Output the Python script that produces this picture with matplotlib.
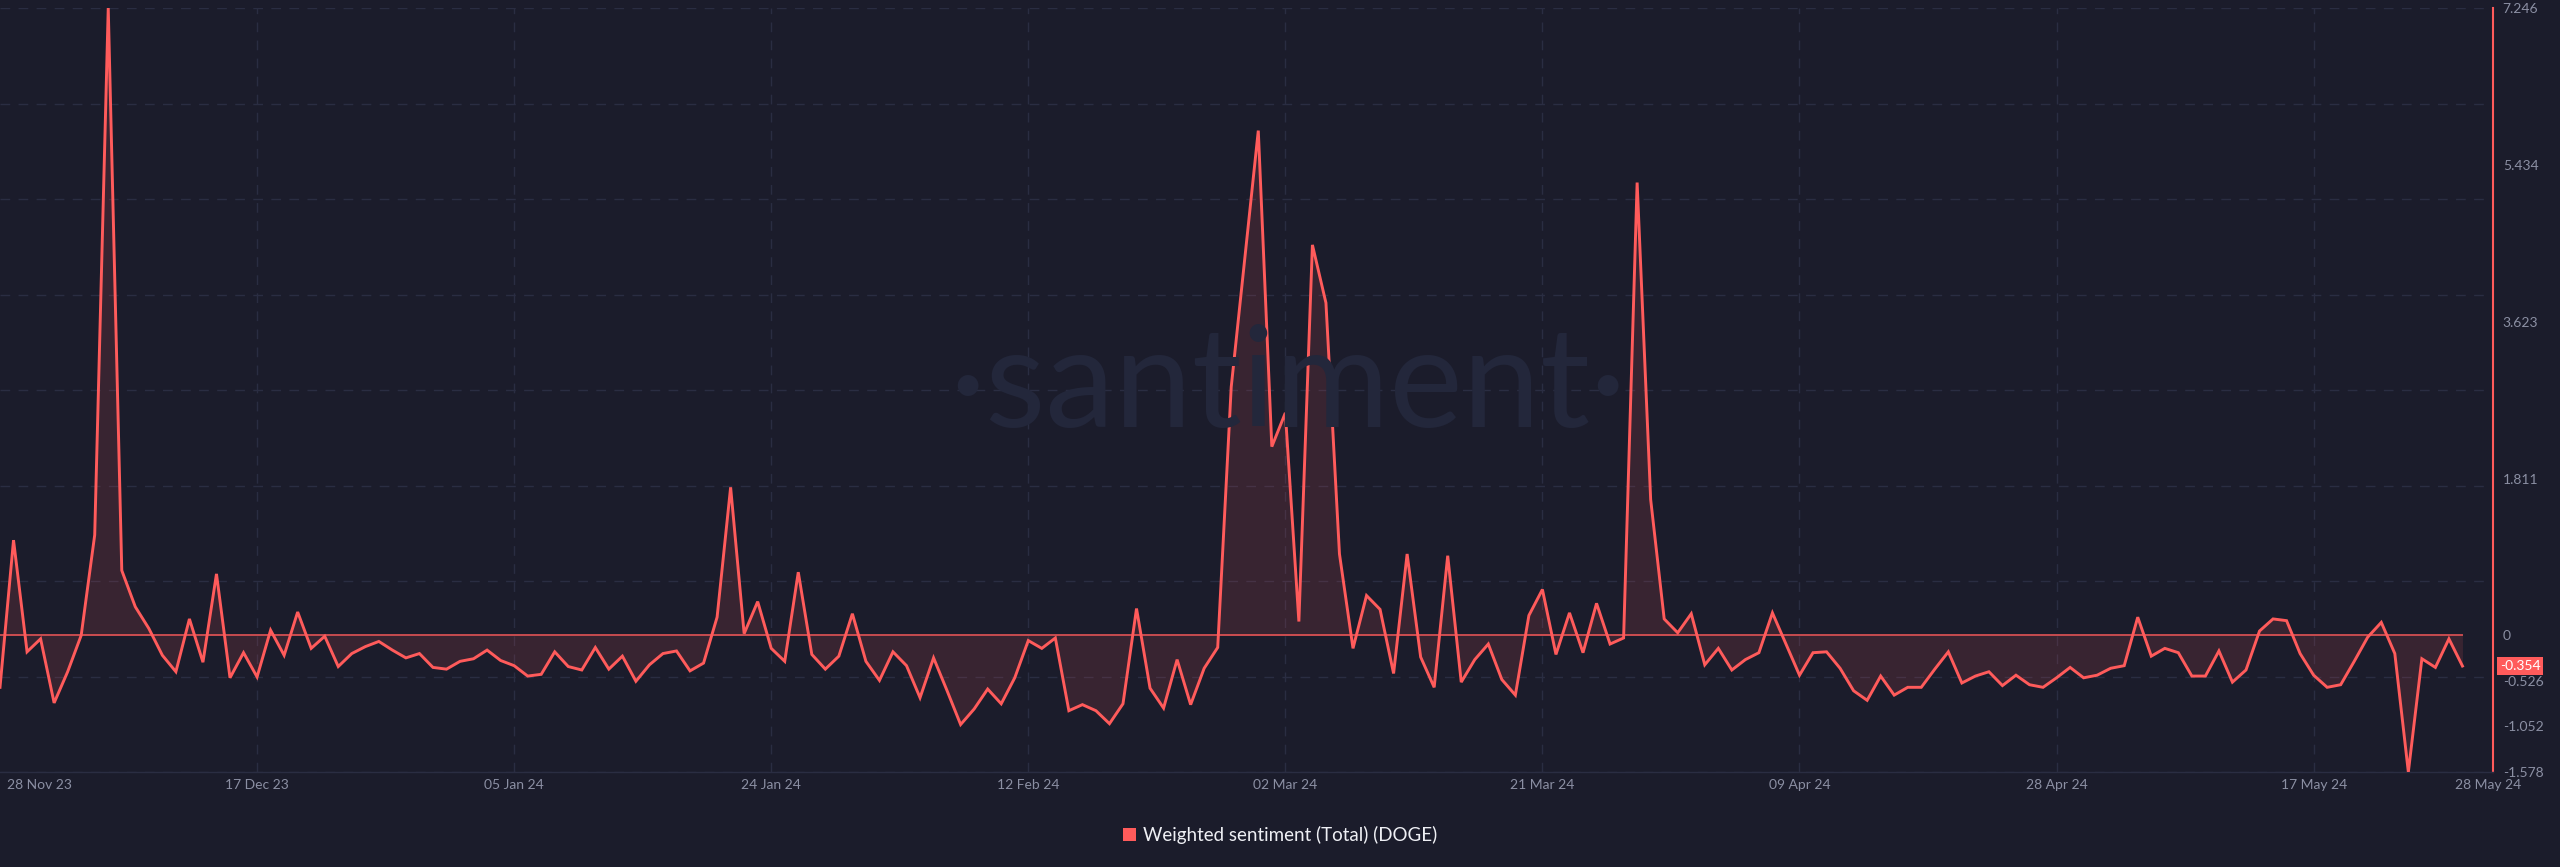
import matplotlib.pyplot as plt
import matplotlib.transforms as mtransforms
from matplotlib.patches import Patch
import numpy as np

# Weighted sentiment (Total) for DOGE, one value per day from 28 Nov 23 to 28 May 24
sentiment = [
    -0.60, 1.10, -0.19, -0.04, -0.78, -0.42, 0.00, 1.16, 7.246, 0.75,
    0.33, 0.08, -0.23, -0.42, 0.19, -0.31, 0.71, -0.49, -0.20, -0.48,
    0.06, -0.23, 0.27, -0.15, -0.01, -0.36, -0.21, -0.13, -0.07, -0.17,
    -0.26, -0.21, -0.37, -0.39, -0.30, -0.27, -0.17, -0.29, -0.35, -0.47,
    -0.45, -0.19, -0.36, -0.40, -0.14, -0.39, -0.24, -0.53, -0.34, -0.21,
    -0.18, -0.41, -0.32, 0.21, 1.71, 0.02, 0.39, -0.15, -0.30, 0.73,
    -0.22, -0.39, -0.24, 0.25, -0.30, -0.52, -0.19, -0.35, -0.72, -0.26,
    -0.64, -1.03, -0.85, -0.62, -0.79, -0.49, -0.06, -0.15, -0.03, -0.87,
    -0.80, -0.87, -1.02, -0.79, 0.31, -0.61, -0.84, -0.28, -0.80, -0.38,
    -0.14, 2.87, 4.35, 5.83, 2.18, 2.57, 0.16, 4.51, 3.84, 0.94,
    -0.15, 0.46, 0.30, -0.44, 0.94, -0.25, -0.60, 0.92, -0.54, -0.28,
    -0.10, -0.51, -0.69, 0.23, 0.53, -0.22, 0.26, -0.20, 0.37, -0.10,
    -0.03, 5.23, 1.57, 0.19, 0.03, 0.25, -0.34, -0.15, -0.40, -0.28,
    -0.20, 0.26, -0.10, -0.46, -0.20, -0.19, -0.38, -0.64, -0.75, -0.47,
    -0.69, -0.60, -0.60, -0.39, -0.19, -0.55, -0.47, -0.42, -0.58, -0.46,
    -0.57, -0.60, -0.49, -0.37, -0.49, -0.46, -0.38, -0.35, 0.21, -0.24,
    -0.15, -0.20, -0.47, -0.47, -0.18, -0.54, -0.40, 0.05, 0.19, 0.17,
    -0.21, -0.46, -0.60, -0.57, -0.30, -0.02, 0.15, -0.21, -1.578, -0.27,
    -0.37, -0.04, -0.354,
]

tick_days = [0, 19, 38, 57, 76, 95, 114, 133, 152, 171, 182]
tick_labels = ['28 Nov 23', '17 Dec 23', '05 Jan 24', '24 Jan 24', '12 Feb 24',
               '02 Mar 24', '21 Mar 24', '09 Apr 24', '28 Apr 24', '17 May 24', '28 May 24']
y_ticks = [7.246, 5.434, 3.623, 1.811, 0, -0.526, -1.052, -1.578]
y_tick_labels = ['7.246', '5.434', '3.623', '1.811', '0', '-0.526', '-1.052', '-1.578']
series_name = 'Weighted sentiment (Total) (DOGE)'

BG = '#1b1c2b'
RED = '#ff5b5b'
GRID = '#2a2d42'
TEXT = '#8b8fa3'

plt.rcParams['font.family'] = ['Lato', 'DejaVu Sans']

days = np.arange(len(sentiment))
vals = np.array(sentiment)
ymin, ymax = vals.min(), vals.max()

fig = plt.figure(figsize=(25.6, 8.67), dpi=100, facecolor=BG)
ax = fig.add_axes([0, 95 / 867, 2493 / 2560, 764 / 867], facecolor=BG)

# watermark
fig.text(0.503, 0.508, '\u00b7santiment\u00b7', fontsize=100, fontweight='normal',
         color='#23273b', ha='center', va='baseline', zorder=0)

# grid: horizontal lines evenly spaced, vertical ones at the date ticks
for gy in np.linspace(ymin, ymax, 9):
    ax.axhline(gy, color=GRID, lw=1, dashes=(7, 6), zorder=1)
for d in tick_days[1:-1]:
    ax.axvline(d, color=GRID, lw=1, dashes=(7, 6), zorder=1)

ax.fill_between(days, vals, 0, color=RED, alpha=0.13, lw=0, zorder=2)
ax.plot([days[0], days[-1]], [0, 0], color=RED, lw=1.4, alpha=0.75, zorder=3)
ax.plot(days, vals, color=RED, lw=2.1, zorder=4, solid_joinstyle='miter')

ax.set_xlim(0, 2493 / 13.53)
ax.set_ylim(ymin, ymax)

ax.set_xticks(tick_days)
ax.set_xticklabels(tick_labels)
ax.yaxis.tick_right()
ax.set_yticks(y_ticks)
ax.set_yticklabels(y_tick_labels)
ax.tick_params(axis='x', length=0, pad=5, labelsize=10, labelcolor=TEXT)
ax.tick_params(axis='y', length=0, pad=7, labelsize=10, labelcolor=TEXT)

xl = ax.get_xticklabels()
xl[0].set_ha('left')
xl[0].set_transform(xl[0].get_transform() + mtransforms.ScaledTranslation(7 / 100, 0, fig.dpi_scale_trans))
xl[-1].set_ha('left')
xl[-1].set_transform(xl[-1].get_transform() + mtransforms.ScaledTranslation(-7 / 100, 0, fig.dpi_scale_trans))

for s in ['left', 'top']:
    ax.spines[s].set_visible(False)
ax.spines['right'].set_color(RED)
ax.spines['right'].set_linewidth(1.5)
ax.spines['bottom'].set_color(GRID)
ax.spines['bottom'].set_linewidth(1)

# last value marker on the right axis
trans = mtransforms.blended_transform_factory(ax.transAxes, ax.transData) + \
    mtransforms.ScaledTranslation(7 / 100, 0, fig.dpi_scale_trans)
ax.text(1.0, vals[-1], f'{vals[-1]:.3f}', transform=trans, ha='left', va='center',
        fontsize=10, color='white', clip_on=False,
        bbox=dict(boxstyle='square,pad=0.2', facecolor=RED, edgecolor='none'))

fig.legend(handles=[Patch(facecolor=RED, edgecolor='none')], labels=[series_name],
           loc='center', bbox_to_anchor=(0.5, 32 / 867), frameon=False,
           handlelength=0.7, handleheight=0.7, handletextpad=0.4,
           fontsize=13.5, labelcolor='#eeeff4')

fig.savefig('out.png', dpi=100, facecolor=BG)
